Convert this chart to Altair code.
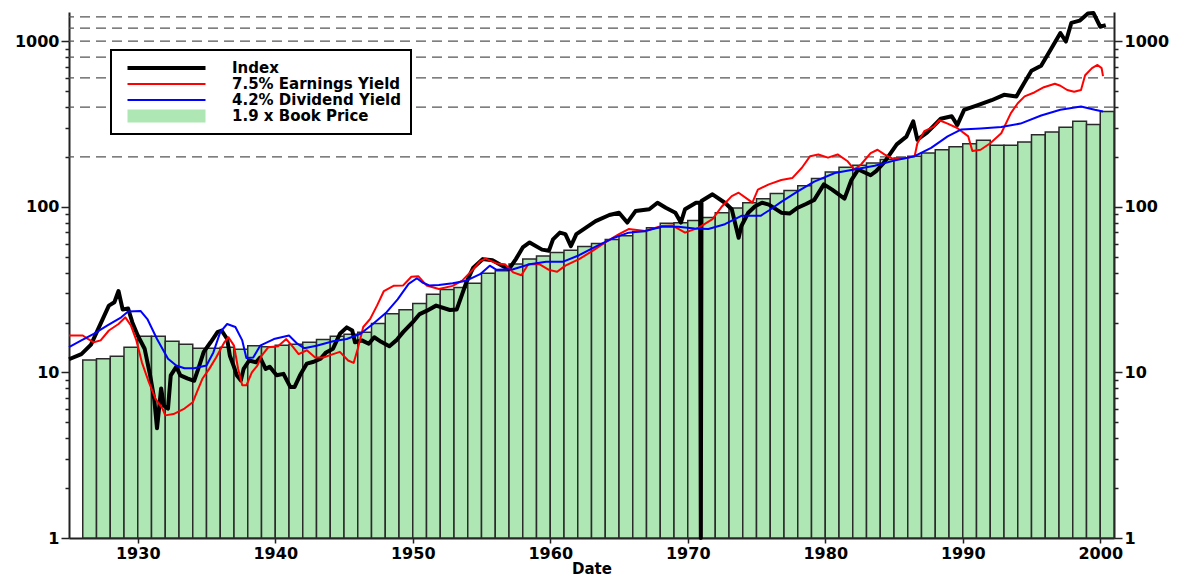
import altair as alt
import pandas as pd

# ---------------- data ----------------
series_names = ["Index", "7.5% Earnings Yield", "4.2% Dividend Yield", "1.9 x Book Price"]

book_years = list(range(1926, 2001))
book_values = [
    11.9, 12.1, 12.5, 14.2, 16.5, 16.5, 15.4, 14.8, 14.0, 14.0,   # 1926-1935
    14.2, 13.8, 14.5, 14.3, 14.6, 14.8, 15.2, 15.8, 16.5, 17.0,   # 1936-1945
    17.5, 19.7, 22.6, 23.9, 26.1, 29.6, 31.7, 32.6, 34.5, 39.7,   # 1946-1955
    41.1, 45.2, 48.3, 50.5, 53.0, 54.7, 57.5, 60.0, 63.5, 66.8,   # 1956-1965
    70.8, 74.8, 79.4, 80.2, 82.5, 86.0, 92.1, 98.2, 105.8, 111.9, # 1966-1975
    120.4, 125.5, 134, 148, 162, 173, 178, 184, 193, 197,         # 1976-1985
    202, 211, 221, 230, 240, 252, 235, 235, 246, 272,             # 1986-1995
    283, 302, 328, 314, 376,                                      # 1996-2000
]

index_t = [
    1925.0, 1925.9, 1926.6, 1927.3, 1927.9, 1928.3, 1928.6, 1928.9, 1929.3, 1929.6,
    1930.0, 1930.5, 1930.9, 1931.2, 1931.4, 1931.7, 1931.9, 1932.2, 1932.4, 1932.8,
    1933.1, 1933.6, 1934.1, 1934.4, 1934.8, 1935.3, 1935.8, 1936.1, 1936.5, 1936.7,
    1937.0, 1937.2, 1937.5, 1937.7, 1938.1, 1938.6, 1938.9, 1939.3, 1939.6, 1940.1,
    1940.6, 1941.1, 1941.4, 1941.8, 1942.3, 1942.8, 1943.3, 1943.7, 1944.2, 1944.7,
    1945.2, 1945.6, 1945.8, 1946.3, 1946.8, 1947.2, 1947.7, 1948.3, 1948.8, 1949.3,
    1950.0, 1950.5, 1951.0, 1951.7, 1952.7, 1953.2, 1953.9, 1954.4, 1955.1, 1955.8,
    1956.5, 1957.0, 1957.5, 1958.0, 1958.5, 1959.4, 1959.9, 1960.2, 1960.7, 1961.1,
    1961.5, 1961.9, 1962.6, 1963.3, 1964.3, 1965.0, 1965.6, 1966.2, 1967.2, 1967.8,
    1968.4, 1969.1, 1969.5, 1969.8, 1970.6, 1970.9, 1970.95, 1971.0, 1971.8, 1972.7,
    1973.2, 1973.7, 1973.9, 1974.4, 1974.9, 1975.4, 1975.9, 1976.8, 1977.4, 1978.0,
    1978.6, 1979.2, 1979.9, 1980.5, 1981.4, 1981.9, 1982.4, 1983.3, 1983.7, 1984.3,
    1985.2, 1985.9, 1986.4, 1986.7, 1987.4, 1988.4, 1989.2, 1989.6, 1990.1, 1991.1,
    1992.1, 1993.0, 1993.9, 1994.5, 1995.0, 1995.7, 1996.4, 1997.1, 1997.5, 1997.9,
    1998.5, 1999.1, 1999.5, 2000.0, 2000.4,
]
index_v = [
    12.0, 12.9, 14.7, 19.7, 25.3, 26.5, 31.0, 24.0, 24.3, 20.1,
    16.7, 13.9, 9.6, 6.9, 4.6, 8.0, 6.3, 6.05, 9.6, 10.8,
    9.6, 9.2, 8.9, 10.5, 13.3, 15.2, 17.5, 17.9, 15.9, 12.6,
    10.8, 9.6, 8.95, 10.5, 11.8, 11.5, 12.3, 10.5, 10.8, 9.6,
    9.8, 8.15, 8.15, 9.6, 11.3, 11.6, 12.1, 13.2, 13.9, 17.1,
    18.7, 17.9, 15.2, 15.6, 14.9, 16.3, 15.3, 14.4, 15.6, 17.5,
    20.1, 22.5, 23.5, 25.3, 23.8, 24.0, 35.0, 42.9, 48.3, 47.5,
    44.1, 42.0, 48.3, 56.8, 60.9, 55.1, 54.3, 63.6, 69.8, 68.4,
    57.9, 68.4, 74.8, 82.0, 89.2, 92.1, 80.3, 94.2, 96.6, 105.8,
    98.7, 92.1, 80.3, 96.6, 105.8, 106.0, 1.0, 108.3, 118.9, 105.8,
    96.6, 65.0, 76.5, 92.0, 100.8, 105.8, 103.0, 92.1, 91.0, 98.7,
    104, 110, 136.6, 127, 112, 145, 168, 155, 164, 186,
    238, 265, 328, 254, 280, 340, 352, 311, 385, 411,
    440, 474, 464, 565, 663, 710, 890, 1120, 995, 1290,
    1330, 1470, 1480, 1222, 1250,
]

earn_t = [
    1925.0, 1926.0, 1926.4, 1926.8, 1927.3, 1927.9, 1928.6, 1929.1, 1929.5, 1929.9,
    1930.3, 1930.8, 1931.3, 1931.8, 1932.0, 1932.6, 1933.4, 1934.0, 1934.3, 1934.7,
    1935.2, 1935.7, 1936.3, 1936.6, 1937.0, 1937.3, 1937.6, 1937.9, 1938.3, 1938.7,
    1939.0, 1939.5, 1940.2, 1940.8, 1941.3, 1941.7, 1942.3, 1942.9, 1943.5, 1944.1,
    1944.7, 1945.3, 1945.7, 1946.0, 1946.4, 1946.9, 1947.4, 1947.9, 1948.6, 1949.3,
    1949.9, 1950.4, 1951.0, 1951.9, 1952.9, 1953.6, 1954.4, 1954.9, 1955.3, 1956.1,
    1956.7, 1957.3, 1957.9, 1958.4, 1959.2, 1959.9, 1960.5, 1961.1, 1962.1, 1963.1,
    1964.0, 1965.0, 1965.7, 1966.9, 1968.1, 1968.9, 1969.8, 1970.8, 1971.8, 1972.5,
    1973.2, 1973.7, 1974.4, 1974.7, 1975.1, 1975.9, 1976.8, 1977.6, 1978.3, 1978.9,
    1979.5, 1980.2, 1980.9, 1981.6, 1982.1, 1982.6, 1983.3, 1983.8, 1984.3, 1985.0,
    1986.0, 1986.5, 1986.7, 1987.2, 1987.9, 1988.3, 1988.9, 1989.6, 1990.4, 1990.7,
    1991.3, 1992.0, 1992.8, 1993.5, 1994.0, 1994.5, 1995.2, 1995.9, 1996.7, 1997.1,
    1997.6, 1998.1, 1998.6, 1998.9, 1999.4, 1999.8, 2000.1, 2000.2,
]
earn_v = [
    16.7, 16.7, 15.9, 15.2, 15.6, 17.9, 19.6, 21.5, 19.2, 15.6,
    11.5, 8.75, 6.9, 6.05, 5.5, 5.6, 6.05, 6.6, 7.6, 9.15,
    10.5, 12.3, 15.2, 16.3, 14.5, 10.5, 8.35, 8.35, 10.0, 11.0,
    12.6, 14.2, 14.4, 15.9, 14.2, 12.9, 13.6, 12.3, 12.3, 12.8,
    13.3, 11.8, 11.4, 13.9, 18.8, 21.0, 25.3, 31.0, 33.3, 33.5,
    37.8, 38.1, 33.5, 31.9, 33.3, 35.8, 42.0, 47.0, 48.6, 45.5,
    45.0, 40.2, 38.6, 45.0, 45.0, 41.6, 40.5, 44.1, 48.3, 54.3,
    60.9, 68.4, 73.4, 71.4, 76.5, 77.0, 69.8, 74.8, 84.2, 100.8,
    116, 121.6, 110.5, 106, 127, 136.6, 145, 149, 172, 202,
    207, 198, 207, 189, 168, 180, 211, 221, 207, 193,
    198, 202, 242, 286, 305, 333, 318, 299, 266, 217,
    221, 242, 278, 368, 422, 464, 490, 527, 553, 538,
    507, 495, 507, 622, 687, 718, 687, 615,
]

div_t = [
    1925.0, 1925.9, 1926.8, 1927.8, 1928.8, 1929.3, 1930.2, 1930.7, 1931.4, 1932.2,
    1932.8, 1933.4, 1934.1, 1935.0, 1935.5, 1936.0, 1936.5, 1937.1, 1937.6, 1937.9,
    1938.4, 1938.9, 1939.9, 1941.0, 1941.6, 1942.1, 1943.0, 1944.2, 1945.2, 1946.2,
    1947.1, 1948.1, 1948.9, 1949.7, 1950.3, 1950.7, 1951.2, 1951.9, 1952.9, 1953.9,
    1954.9, 1955.6, 1956.1, 1957.3, 1958.5, 1959.7, 1960.9, 1962.1, 1963.3, 1964.5,
    1965.7, 1966.9, 1968.1, 1969.3, 1970.5, 1971.5, 1972.7, 1973.9, 1975.3, 1975.9,
    1976.8, 1978.0, 1979.2, 1980.7, 1982.1, 1983.6, 1985.0, 1986.5, 1987.7, 1988.9,
    1989.9, 1991.3, 1992.8, 1994.2, 1995.7, 1997.1, 1998.6, 1999.6, 2000.2,
]
div_v = [
    14.2, 15.6, 17.1, 19.2, 21.5, 23.3, 23.5, 21.0, 15.9, 12.1,
    11.0, 10.6, 10.6, 11.0, 13.2, 17.5, 19.6, 18.8, 15.6, 12.2,
    12.3, 14.5, 15.9, 16.7, 14.9, 14.0, 14.5, 15.4, 15.9, 17.1,
    19.6, 23.1, 27.6, 34.2, 37.0, 34.9, 33.5, 33.7, 34.5, 35.8,
    39.2, 44.1, 41.6, 42.0, 45.0, 46.5, 46.5, 51.0, 57.5, 64.3,
    69.8, 71.4, 75.8, 75.8, 74.0, 73.4, 78.5, 88.2, 88.2, 95.0,
    107, 124, 142, 160, 168, 177, 190, 202, 227, 266,
    293, 297, 303, 318, 356, 385, 403, 385, 376,
]

grid_values = [200, 400, 600, 800, 1000, 1200, 1400]
x_tick_years = [1930, 1940, 1950, 1960, 1970, 1980, 1990, 2000]
y_tick_values = [1, 2, 3, 4, 5, 6, 7, 8, 9,
                 10, 20, 30, 40, 50, 60, 70, 80, 90,
                 100, 200, 300, 400, 500, 600, 700, 800, 900, 1000]

# ---------------- tables ----------------
bars_df = pd.DataFrame({
    "year": book_years,
    "year_end": [y + 1 for y in book_years],
    "value": book_values,
    "base": [1] * len(book_years),
})
grid_df = pd.DataFrame({"value": grid_values})

# ---------------- scales / axes ----------------
FONT = "DejaVu Sans"
xscale = alt.Scale(domain=[1925, 2001], nice=False, zero=False)
yscale = alt.Scale(type="log", domain=[1, 1500], nice=False)
cscale = alt.Scale(domain=series_names, range=["#000000", "#ff0000", "#0000ff", "#aee6b4"])
wscale = alt.Scale(type="ordinal", domain=series_names, range=[4, 2, 2, 13])

major = "datum.value == 1 || datum.value == 10 || datum.value == 100 || datum.value == 1000"

def y_axis(orient):
    return alt.Axis(
        orient=orient, values=y_tick_values, format="d",
        labelExpr=f"({major}) ? datum.label : ''",
        labelOverlap=False, grid=False, title=None,
        tickSize={"condition": {"test": major, "value": 8}, "value": 4},
        tickColor="#222", tickWidth=1.5,
        domainColor="#222", domainWidth=2,
        labelFont=FONT, labelFontSize=16, labelFontWeight="bold",
        labelColor="#000", labelPadding=2,
    )

xaxis = alt.Axis(
    values=x_tick_years, format="d", title="Date", grid=False,
    tickSize=5, tickColor="#222", tickWidth=1.5,
    domainColor="#222", domainWidth=2,
    labelFont=FONT, labelFontSize=16, labelFontWeight="bold", labelColor="#000",
    labelPadding=2, titleFont=FONT, titleFontSize=15, titleFontWeight="bold",
    titleColor="#000", titlePadding=0,
)

leg = alt.Legend(
    orient="none", legendX=42, legendY=38, title=None,
    symbolType="M-39,0H39", symbolSize=4, symbolOffset=38, labelOffset=58,
    labelLimit=400, clipHeight=16,
    labelFont=FONT, labelFontSize=15, labelFontWeight="bold", labelColor="#000",
    padding=10, rowPadding=0, strokeColor="#000", fillColor="#ffffff",
)

# ---------------- layers ----------------
grid = alt.Chart(grid_df).mark_rule(
    color="#555555", strokeDash=[10, 6], strokeWidth=1.2
).encode(
    y=alt.Y("value:Q", scale=yscale, axis=y_axis("right")),
)

bars = alt.Chart(bars_df).mark_rect(
    fill="#aee6b4", stroke="#2a2a2a", strokeWidth=1.5
).encode(
    x=alt.X("year:Q", scale=xscale, axis=xaxis),
    x2="year_end:Q",
    y=alt.Y("value:Q", scale=yscale, axis=y_axis("left")),
    y2="base:Q",
)

def line_layer(t, v, name):
    df = pd.DataFrame({"t": t, "value": v, "series": [name] * len(t)})
    return alt.Chart(df).mark_line(strokeJoin="round").encode(
        x=alt.X("t:Q", scale=xscale, axis=xaxis),
        y=alt.Y("value:Q", scale=yscale, axis=None),
        color=alt.Color("series:N", scale=cscale, legend=leg),
        strokeWidth=alt.StrokeWidth("series:N", scale=wscale, legend=leg),
    )

index_line = line_layer(index_t, index_v, series_names[0])
earn_line = line_layer(earn_t, earn_v, series_names[1])
div_line = line_layer(div_t, div_v, series_names[2])

chart = alt.layer(grid, bars, index_line, earn_line, div_line).resolve_axis(
    y="independent"
).properties(
    width=1045, height=526,
    padding={"left": 61, "top": 4, "right": 55, "bottom": 42},
    autosize=alt.AutoSizeParams(type="none"),
).configure_view(strokeWidth=0).configure_legend(strokeWidth=2)

chart.save("out.html", embed_options={"renderer": "svg", "actions": False})
